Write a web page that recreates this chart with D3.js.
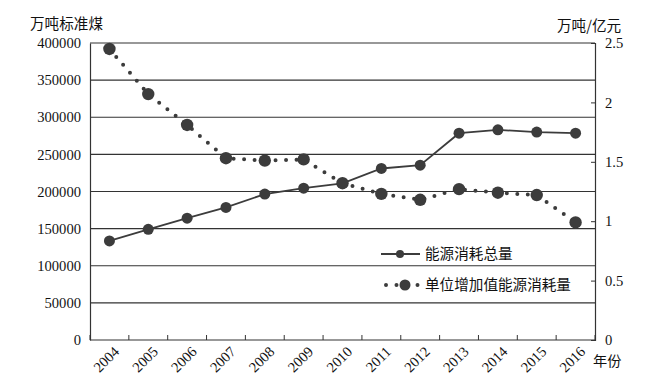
<!DOCTYPE html>
<html><head><meta charset="utf-8">
<script src="https://cdn.jsdelivr.net/npm/d3@7"></script>
<style>body{margin:0;background:#fff}svg{display:block}</style>
</head><body>
<svg id="c" width="658" height="381"></svg>
<script>
const years = ["2004","2005","2006","2007","2008","2009","2010","2011","2012","2013","2014","2015","2016"];
const totalEnergy = [133500,149000,164000,178500,196500,204500,211000,231000,235500,278500,283000,280000,278500];
const intensity = [2.45,2.07,1.81,1.53,1.51,1.52,1.32,1.23,1.18,1.27,1.24,1.22,0.99];
const leftTicks = [0,50000,100000,150000,200000,250000,300000,350000,400000];
const rightTicks = [0,0.5,1,1.5,2,2.5];
const seriesNames = ["能源消耗总量","单位增加值能源消耗量"];
const leftTitle = "万吨标准煤", rightTitle = "万吨/亿元", xTitle = "年份";

const svg = d3.select("#c");
const L = 90, R = 595, T = 43, B = 340;
const col = "#3c3c3c";
const serif = "'Liberation Serif','Times New Roman',serif";
const cjk = "'Noto Sans CJK SC',sans-serif";

const x = d3.scaleBand().domain(years).range([L, R]).padding(0);
const yL = d3.scaleLinear().domain([0, 400000]).range([B, T]);
const yR = d3.scaleLinear().domain([0, 2.5]).range([B, T]);
const cx = d => x(d) + x.bandwidth() / 2;

// gridlines
svg.append("g").selectAll("line").data(leftTicks).join("line")
  .attr("x1", L).attr("x2", R).attr("y1", d => yL(d)).attr("y2", d => yL(d))
  .attr("stroke", "#333").attr("stroke-width", 1.2);

// left axis
const gl = svg.append("g").attr("transform", `translate(${L},0)`)
  .call(d3.axisLeft(yL).tickValues(leftTicks).tickSize(0).tickPadding(9).tickFormat(d3.format("d")));
gl.select(".domain").attr("stroke", "#333").attr("stroke-width", 1.2);
gl.selectAll("text").attr("font-family", serif).attr("font-size", 14.6).attr("fill", "#111");

// right axis
const gr = svg.append("g").attr("transform", `translate(${R},0)`)
  .call(d3.axisRight(yR).tickValues(rightTicks).tickSize(-4).tickPadding(10).tickFormat(d => d3.format("")(d)));
gr.select(".domain").attr("stroke", "#333").attr("stroke-width", 1.2);
gr.selectAll(".tick line").attr("stroke", "#333");
gr.selectAll("text").attr("font-family", serif).attr("font-size", 14.6).attr("fill", "#111");

// bottom axis
const bandTicks = years.map(y => x(y)).concat([R]);
svg.append("g").selectAll("line").data(bandTicks).join("line")
  .attr("x1", d => d).attr("x2", d => d).attr("y1", B).attr("y2", B - 5)
  .attr("stroke", "#333").attr("stroke-width", 1);
svg.append("g").selectAll("text").data(years).join("text")
  .attr("transform", d => `translate(${cx(d) + 7},${B + 9}) rotate(-45)`)
  .attr("text-anchor", "end").attr("dy", "0.35em")
  .attr("font-family", serif).attr("font-size", 14.6).attr("fill", "#111")
  .text(d => d);

// titles
svg.append("text").attr("x", 30).attr("y", 29).attr("font-family", cjk).attr("font-size", 14.6).attr("fill", "#111").text(leftTitle);
svg.append("text").attr("x", 557).attr("y", 31).attr("font-family", cjk).attr("font-size", 14.6).attr("fill", "#111").text(rightTitle);
svg.append("text").attr("x", 593).attr("y", 366).attr("font-family", cjk).attr("font-size", 14.2).attr("fill", "#111").text(xTitle);

// intensity dotted series
const lineR = d3.line().x((d, i) => cx(years[i])).y(d => yR(d));
svg.append("path").datum(intensity).attr("d", lineR)
  .attr("fill", "none").attr("stroke", col).attr("stroke-width", 4)
  .attr("stroke-linecap", "round").attr("stroke-dasharray", "0 10.5");
svg.append("g").selectAll("circle").data(intensity).join("circle")
  .attr("cx", (d, i) => cx(years[i])).attr("cy", d => yR(d)).attr("r", 6.2).attr("fill", col);

// total energy series
const lineL = d3.line().x((d, i) => cx(years[i])).y(d => yL(d));
svg.append("path").datum(totalEnergy).attr("d", lineL)
  .attr("fill", "none").attr("stroke", col).attr("stroke-width", 1.8);
svg.append("g").selectAll("circle").data(totalEnergy).join("circle")
  .attr("cx", (d, i) => cx(years[i])).attr("cy", d => yL(d)).attr("r", 5.5).attr("fill", col);

// legend
const lg = svg.append("g");
lg.append("line").attr("x1", 381).attr("x2", 420).attr("y1", 254).attr("y2", 254).attr("stroke", col).attr("stroke-width", 1.8);
lg.append("circle").attr("cx", 400).attr("cy", 254).attr("r", 4).attr("fill", col);
lg.append("text").attr("x", 425).attr("y", 259).attr("font-family", cjk).attr("font-size", 14.6).attr("fill", "#111").text(seriesNames[0]);
lg.append("line").attr("x1", 386).attr("x2", 418).attr("y1", 285).attr("y2", 285).attr("stroke", col).attr("stroke-width", 4)
  .attr("stroke-linecap", "round").attr("stroke-dasharray", "0 10.5");
lg.append("circle").attr("cx", 405).attr("cy", 285).attr("r", 5.5).attr("fill", col);
lg.append("text").attr("x", 425).attr("y", 290).attr("font-family", cjk).attr("font-size", 14.6).attr("fill", "#111").text(seriesNames[1]);
</script>
</body></html>
